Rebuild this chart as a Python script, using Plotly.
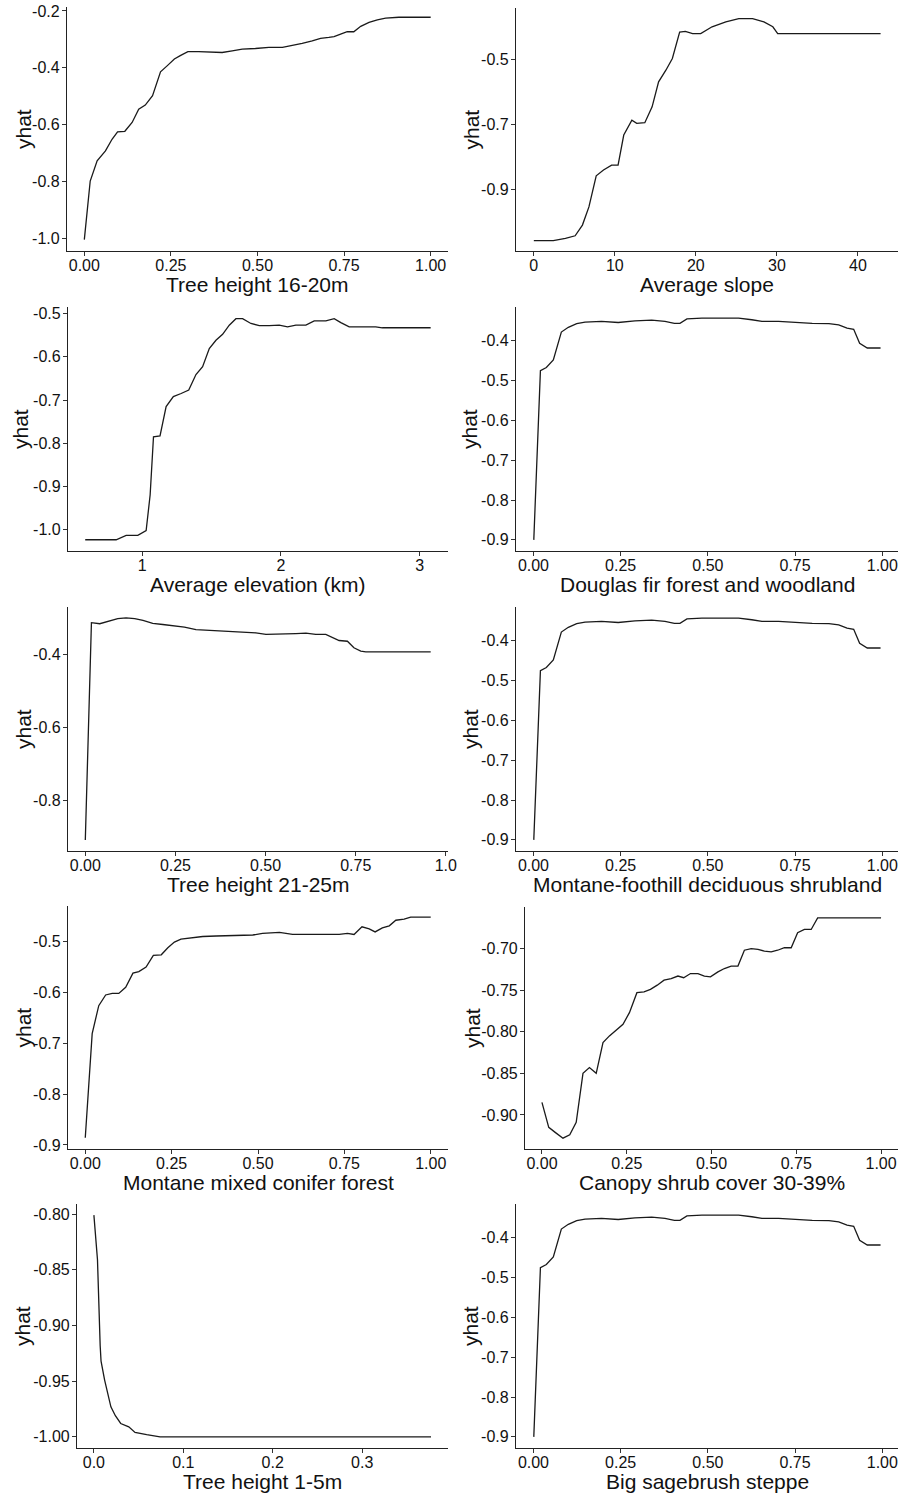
import plotly.graph_objects as go

# ---------------- data ----------------
th1620_x = [0, 0.017, 0.037, 0.061, 0.080, 0.096, 0.117, 0.138, 0.157, 0.176, 0.197, 0.220, 0.239,
            0.260, 0.277, 0.299, 0.330, 0.369, 0.398, 0.427, 0.456, 0.494, 0.533, 0.572, 0.600, 0.629,
            0.658, 0.682, 0.706, 0.721, 0.740, 0.759, 0.778, 0.798, 0.822, 0.846, 0.870, 0.908, 1.0]
th1620_y = [-1.004, -0.798, -0.727, -0.692, -0.651, -0.625, -0.623, -0.592, -0.545, -0.531, -0.498,
            -0.414, -0.393, -0.369, -0.357, -0.343, -0.343, -0.346, -0.346, -0.340, -0.334, -0.332,
            -0.328, -0.328, -0.322, -0.314, -0.305, -0.296, -0.293, -0.290, -0.281, -0.273, -0.273,
            -0.254, -0.240, -0.231, -0.225, -0.222, -0.222]

slope_x = [0, 2.4, 3.9, 5.1, 6.0, 6.8, 7.7, 8.6, 9.6, 10.4, 11.1, 12.1, 12.7, 13.7, 14.6, 15.4, 16.3,
           17.1, 18.0, 18.7, 19.6, 20.6, 22.0, 23.7, 25.3, 27.0, 28.4, 29.5, 30.1, 42.8]
slope_y = [-1.059, -1.059, -1.052, -1.044, -1.011, -0.955, -0.859, -0.841, -0.826, -0.826, -0.733,
           -0.687, -0.697, -0.695, -0.646, -0.569, -0.533, -0.497, -0.415, -0.413, -0.420, -0.420,
           -0.399, -0.384, -0.374, -0.374, -0.384, -0.399, -0.420, -0.420]

elev_x = [0.590, 0.813, 0.885, 0.969, 1.029, 1.058, 1.082, 1.129, 1.173, 1.225, 1.281, 1.336, 1.388,
          1.436, 1.484, 1.532, 1.580, 1.628, 1.676, 1.724, 1.784, 1.844, 1.916, 1.988, 2.048, 2.108,
          2.180, 2.240, 2.324, 2.384, 2.432, 2.492, 2.588, 2.683, 2.731, 3.079]
elev_y = [-1.023, -1.023, -1.013, -1.013, -1.002, -0.919, -0.785, -0.783, -0.715, -0.692, -0.685,
          -0.677, -0.641, -0.623, -0.581, -0.562, -0.548, -0.527, -0.512, -0.512, -0.523, -0.528,
          -0.528, -0.527, -0.531, -0.527, -0.527, -0.517, -0.517, -0.512, -0.521, -0.531, -0.531,
          -0.531, -0.533, -0.533]

dfir_x = [0.001, 0.020, 0.037, 0.057, 0.080, 0.100, 0.124, 0.148, 0.195, 0.243, 0.291, 0.339, 0.377,
          0.404, 0.420, 0.440, 0.483, 0.531, 0.588, 0.626, 0.655, 0.703, 0.751, 0.799, 0.847, 0.875,
          0.899, 0.918, 0.935, 0.957, 0.995]
dfir_y = [-0.900, -0.475, -0.467, -0.448, -0.378, -0.366, -0.357, -0.353, -0.351, -0.354, -0.350,
          -0.348, -0.351, -0.356, -0.356, -0.345, -0.343, -0.343, -0.343, -0.347, -0.351, -0.351,
          -0.354, -0.356, -0.357, -0.360, -0.368, -0.371, -0.406, -0.418, -0.418]

th2125_x = [0, 0.017, 0.040, 0.067, 0.090, 0.113, 0.137, 0.160, 0.187, 0.215, 0.243, 0.275, 0.307,
            0.344, 0.390, 0.436, 0.473, 0.501, 0.547, 0.584, 0.612, 0.639, 0.667, 0.690, 0.704,
            0.727, 0.745, 0.764, 0.778, 0.958]
th2125_y = [-0.910, -0.313, -0.316, -0.309, -0.302, -0.300, -0.302, -0.307, -0.315, -0.318, -0.322,
            -0.325, -0.332, -0.334, -0.336, -0.338, -0.341, -0.345, -0.345, -0.343, -0.342, -0.345,
            -0.345, -0.357, -0.362, -0.364, -0.382, -0.391, -0.393, -0.393]

shrubland_x = list(dfir_x)
shrubland_y = list(dfir_y)

conifer_x = [0, 0.020, 0.039, 0.059, 0.078, 0.097, 0.117, 0.138, 0.155, 0.176, 0.197, 0.220, 0.239,
             0.258, 0.277, 0.306, 0.340, 0.379, 0.427, 0.485, 0.513, 0.562, 0.600, 0.658, 0.706,
             0.735, 0.759, 0.778, 0.801, 0.822, 0.839, 0.860, 0.880, 0.899, 0.923, 0.942, 1.0]
conifer_y = [-0.886, -0.681, -0.626, -0.605, -0.602, -0.602, -0.590, -0.562, -0.559, -0.550, -0.527,
             -0.526, -0.512, -0.501, -0.495, -0.493, -0.490, -0.489, -0.488, -0.487, -0.484, -0.482,
             -0.486, -0.486, -0.486, -0.486, -0.484, -0.486, -0.471, -0.475, -0.481, -0.473, -0.469,
             -0.458, -0.456, -0.452, -0.452]

shrub3039_x = [0, 0.020, 0.039, 0.062, 0.082, 0.101, 0.121, 0.140, 0.160, 0.180, 0.199, 0.219, 0.239,
               0.258, 0.280, 0.301, 0.320, 0.340, 0.360, 0.381, 0.401, 0.418, 0.438, 0.460, 0.479,
               0.497, 0.519, 0.538, 0.558, 0.578, 0.597, 0.617, 0.637, 0.656, 0.676, 0.695, 0.715,
               0.735, 0.754, 0.774, 0.794, 0.813, 1.0]
shrub3039_y = [-0.885, -0.915, -0.921, -0.928, -0.924, -0.909, -0.850, -0.843, -0.850, -0.813, -0.805,
               -0.798, -0.791, -0.777, -0.753, -0.752, -0.749, -0.744, -0.738, -0.736, -0.733, -0.735,
               -0.730, -0.730, -0.733, -0.734, -0.728, -0.724, -0.721, -0.721, -0.702, -0.700, -0.701,
               -0.703, -0.704, -0.702, -0.699, -0.699, -0.681, -0.677, -0.677, -0.663, -0.663]

th15_x = [0, 0.004, 0.007, 0.008, 0.012, 0.016, 0.019, 0.024, 0.030, 0.039, 0.046, 0.059, 0.074, 0.377]
th15_y = [-0.801, -0.841, -0.918, -0.932, -0.949, -0.963, -0.973, -0.981, -0.988, -0.991, -0.996,
          -0.998, -1.000, -1.000]

sage_x = list(dfir_x)
sage_y = list(dfir_y)

# tick labels
ticks_01 = [0, 0.25, 0.5, 0.75, 1.0]
ticks_01_text = ["0.00", "0.25", "0.50", "0.75", "1.00"]
ticks_01_text_cut = ["0.00", "0.25", "0.50", "0.75", "1.0"]
slope_ticks = [0, 10, 20, 30, 40]
elev_ticks = [1, 2, 3]
th15_ticks = [0, 0.1, 0.2, 0.3]
th15_ticks_text = ["0.0", "0.1", "0.2", "0.3"]

y_ticks_p1 = [-1.0, -0.8, -0.6, -0.4, -0.2]
y_ticks_p2 = [-0.9, -0.7, -0.5]
y_ticks_p3 = [-1.0, -0.9, -0.8, -0.7, -0.6, -0.5]
y_ticks_p4 = [-0.9, -0.8, -0.7, -0.6, -0.5, -0.4]
y_ticks_p5 = [-0.8, -0.6, -0.4]
y_ticks_p7 = [-0.9, -0.8, -0.7, -0.6, -0.5]
y_ticks_p8 = [-0.90, -0.85, -0.80, -0.75, -0.70]
y_ticks_p9 = [-1.00, -0.95, -0.90, -0.85, -0.80]

x_titles = ["Tree height 16-20m", "Average slope", "Average elevation (km)",
            "Douglas fir forest and woodland", "Tree height 21-25m",
            "Montane-foothill deciduous shrubland", "Montane mixed conifer forest",
            "Canopy shrub cover 30-39%", "Tree height 1-5m", "Big sagebrush steppe"]


def fmt(vals, nd):
    return [("%." + str(nd) + "f") % v for v in vals]


# ---------------- layout per panel (pixel boxes) ----------------
W, H = 903, 1496
panels = [
    # x data, y data, plot box (x0, x1, ytop, ybot), xrange, yrange, xticks, xtext, yticks, ytext, yhat_x
    (th1620_x, th1620_y, (67, 448, 7, 251), [-0.05, 1.05], [-1.044, -0.186],
     ticks_01, ticks_01_text, y_ticks_p1, fmt(y_ticks_p1, 1), 24),
    (slope_x, slope_y, (516, 898, 8, 251), [-2.2, 44.95], [-1.091, -0.341],
     slope_ticks, [str(v) for v in slope_ticks], y_ticks_p2, fmt(y_ticks_p2, 1), 471),
    (elev_x, elev_y, (68, 448, 307, 551), [0.466, 3.204], [-1.049, -0.485],
     elev_ticks, [str(v) for v in elev_ticks], y_ticks_p3, fmt(y_ticks_p3, 1), 21),
    (dfir_x, dfir_y, (516, 898, 307, 551), [-0.05, 1.045], [-0.928, -0.315],
     ticks_01, ticks_01_text, y_ticks_p4, fmt(y_ticks_p4, 1), 470),
    (th2125_x, th2125_y, (68, 448, 607, 851), [-0.048, 1.006], [-0.94, -0.27],
     ticks_01, ticks_01_text_cut, y_ticks_p5, fmt(y_ticks_p5, 1), 23),
    (shrubland_x, shrubland_y, (516, 898, 607, 851), [-0.05, 1.045], [-0.928, -0.315],
     ticks_01, ticks_01_text, y_ticks_p4, fmt(y_ticks_p4, 1), 470),
    (conifer_x, conifer_y, (68, 448, 906, 1149), [-0.05, 1.05], [-0.908, -0.430],
     ticks_01, ticks_01_text, y_ticks_p7, fmt(y_ticks_p7, 1), 23),
    (shrub3039_x, shrub3039_y, (525, 898, 907, 1149), [-0.05, 1.05], [-0.941, -0.650],
     ticks_01, ticks_01_text, y_ticks_p8, fmt(y_ticks_p8, 2), 472),
    (th15_x, th15_y, (77, 448, 1204, 1448), [-0.0189, 0.396], [-1.01, -0.791],
     th15_ticks, th15_ticks_text, y_ticks_p9, fmt(y_ticks_p9, 2), 22),
    (sage_x, sage_y, (516, 898, 1204, 1448), [-0.05, 1.045], [-0.928, -0.315],
     ticks_01, ticks_01_text, y_ticks_p4, fmt(y_ticks_p4, 1), 470),
]


def fx(px):
    return px / W


def fy(py):
    return 1 - py / H


FONT = "Liberation Sans, Arial, sans-serif"
fig = go.Figure()
layout = dict(
    width=W, height=H,
    margin=dict(l=0, r=0, t=0, b=0, pad=0, autoexpand=False),
    paper_bgcolor="white", plot_bgcolor="white",
    showlegend=False,
    font=dict(family=FONT, color="#111111"),
)
annotations = []

for i, (xs, ys, box, xr, yr, xt, xtt, yt, ytt, yhx) in enumerate(panels):
    n = i + 1
    xa = "xaxis" if n == 1 else "xaxis%d" % n
    ya = "yaxis" if n == 1 else "yaxis%d" % n
    xref = "x" if n == 1 else "x%d" % n
    yref = "y" if n == 1 else "y%d" % n
    x0, x1, yt0, yb0 = box
    fig.add_trace(go.Scatter(x=xs, y=ys, mode="lines", xaxis=xref, yaxis=yref,
                             line=dict(color="#1a1a1a", width=1.3), hoverinfo="skip",
                             cliponaxis=False))
    common = dict(showgrid=False, zeroline=False, showline=True, linecolor="#222222",
                  linewidth=1.1, ticks="outside", ticklen=4, tickwidth=1, tickcolor="#333333",
                  tickfont=dict(family=FONT, size=16, color="#111111"), mirror=False,
                  automargin=False, fixedrange=True)
    layout[xa] = dict(domain=[fx(x0), fx(x1)], anchor=yref, range=xr,
                      tickmode="array", tickvals=xt, ticktext=xtt, ticklabelstandoff=-4, **common)
    layout[ya] = dict(domain=[fy(yb0), fy(yt0)], anchor=xref, range=yr,
                      tickmode="array", tickvals=yt, ticktext=ytt, ticklabelstandoff=-1, **common)
    annotations.append(dict(text=x_titles[i], xref="paper", yref="paper",
                            x=fx((x0 + x1) / 2), y=fy(yb0 + 33),
                            xanchor="center", yanchor="middle", showarrow=False,
                            font=dict(family=FONT, size=21, color="#111111")))
    annotations.append(dict(text="yhat", xref="paper", yref="paper",
                            x=fx(yhx), y=fy((yt0 + yb0) / 2), textangle=-90,
                            xanchor="center", yanchor="middle", showarrow=False,
                            font=dict(family=FONT, size=21, color="#111111")))

layout["annotations"] = annotations
fig.update_layout(**layout)
fig.write_html("out.html", config={"displayModeBar": False, "staticPlot": True},
               post_script="document.body.style.margin='0';document.body.style.overflow='hidden';")
